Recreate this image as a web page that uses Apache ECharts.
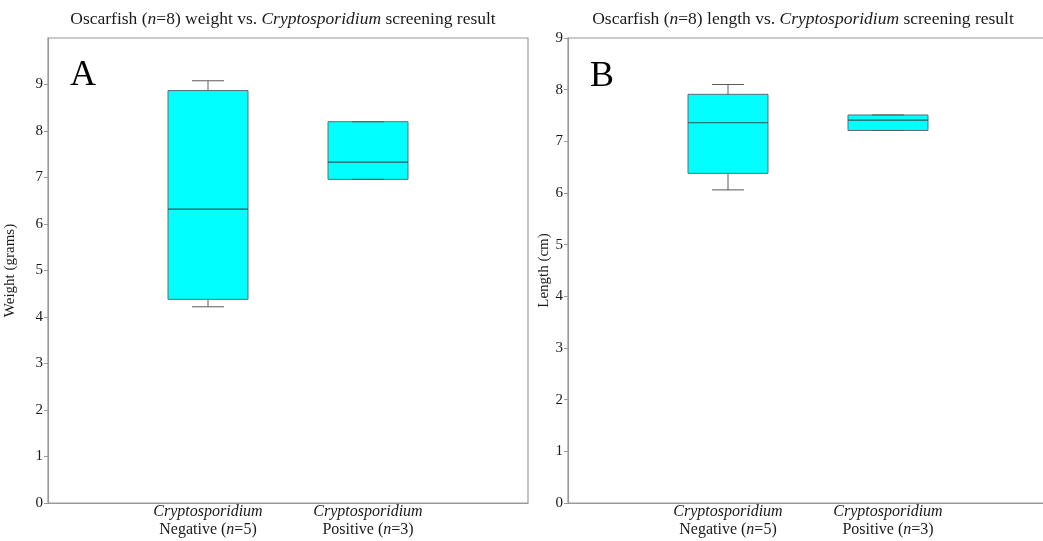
<!DOCTYPE html>
<html>
<head>
<meta charset="utf-8">
<script src="https://cdn.jsdelivr.net/npm/echarts@6/dist/echarts.min.js"></script>
<style>
  html, body { margin: 0; padding: 0; background: #fff; }
  #chart { width: 1043px; height: 541px; }
</style>
</head>
<body>
<div id="chart"></div>
<script>
// ---- data (five-number summaries: min, Q1, median, Q3, max) ----
const groupWords = ['Negative', 'Positive'];
const groupN = [5, 3];
const weightNegative = [4.22, 4.38, 6.32, 8.87, 9.08];
const weightPositive = [6.96, 6.96, 7.33, 8.20, 8.20];
const lengthNegative = [6.06, 6.38, 7.36, 7.91, 8.10];
const lengthPositive = [7.21, 7.21, 7.41, 7.51, 7.51];
const weightAxisMax = 10;
const lengthAxisMax = 9;
const axisInterval = 1;

const FONT = "'Liberation Serif', 'Times New Roman', serif";
const TEXT = '#1a1a1a';
const FRAME = '#9a9a9a';

// category slots: blank, group 1, group 2, blank (boundaryGap false -> thirds)
const cats = ['', groupWords[0], groupWords[1], ''];

function catLabel(value, idx) {
  const g = groupWords.indexOf(value);
  if (g < 0) return '';
  return '{i|Cryptosporidium}\n{r|' + groupWords[g] + ' (}{i|n}{r|=' + groupN[g] + ')}';
}

function boxRender(params, api) {
  const x = api.value(0);
  const vMin = api.value(1), q1 = api.value(2), med = api.value(3), q3 = api.value(4), vMax = api.value(5);
  const unit = api.size([1, 0])[0];
  const halfBox = unit * 0.25;
  const halfCap = unit * 0.1;
  const pMin = api.coord([x, vMin]);
  const pQ1 = api.coord([x, q1]);
  const pMed = api.coord([x, med]);
  const pQ3 = api.coord([x, q3]);
  const pMax = api.coord([x, vMax]);
  const cx = pMed[0];
  const lineStyle = { stroke: '#5a5a5a', lineWidth: 1 };
  return {
    type: 'group',
    children: [
      { type: 'line', shape: { x1: cx, y1: pQ3[1], x2: cx, y2: pMax[1] }, style: lineStyle },
      { type: 'line', shape: { x1: cx, y1: pQ1[1], x2: cx, y2: pMin[1] }, style: lineStyle },
      { type: 'rect', shape: { x: cx - halfBox, y: pQ3[1], width: halfBox * 2, height: pQ1[1] - pQ3[1] },
        style: { fill: '#00FFFF', stroke: '#5c6f6f', lineWidth: 1 } },
      { type: 'line', shape: { x1: cx - halfBox, y1: pMed[1], x2: cx + halfBox, y2: pMed[1] },
        style: { stroke: '#2f5656', lineWidth: 1.2 } },
      { type: 'line', shape: { x1: cx - halfCap, y1: pMax[1], x2: cx + halfCap, y2: pMax[1] }, style: lineStyle },
      { type: 'line', shape: { x1: cx - halfCap, y1: pMin[1], x2: cx + halfCap, y2: pMin[1] }, style: lineStyle }
    ]
  };
}

function xAxisCfg(gi) {
  return {
    type: 'category', gridIndex: gi, data: cats, boundaryGap: false,
    axisLine: { lineStyle: { color: FRAME, width: 1.2 } },
    axisTick: { show: false },
    splitLine: { show: false },
    axisLabel: {
      interval: 0, formatter: catLabel, margin: 0, color: TEXT,
      fontFamily: FONT, fontSize: 16, lineHeight: 18,
      rich: {
        i: { fontStyle: 'italic', fontFamily: FONT, fontSize: 16, color: TEXT, lineHeight: 18 },
        r: { fontFamily: FONT, fontSize: 16, color: TEXT, lineHeight: 18 }
      }
    }
  };
}

function yAxisCfg(gi, max, name, gap, showMax) {
  return {
    type: 'value', gridIndex: gi, min: 0, max: max, interval: axisInterval,
    name: name, nameLocation: 'middle', nameGap: gap,
    nameTextStyle: { fontFamily: FONT, fontSize: 15, color: TEXT },
    axisLine: { show: true, lineStyle: { color: FRAME, width: 1.2 } },
    axisTick: { show: true, length: 4, lineStyle: { color: FRAME } },
    splitLine: { show: false },
    axisLabel: { showMaxLabel: showMax, margin: 5, fontFamily: FONT, fontSize: 15, color: TEXT }
  };
}

function titleText(word) {
  return {
    type: 'text', z: 10,
    style: {
      text: '{r|Oscarfish (}{i|n}{r|=8) ' + word + ' vs. }{i|Cryptosporidium}{r| screening result}',
      textAlign: 'center', textVerticalAlign: 'middle',
      rich: {
        r: { fontFamily: FONT, fontSize: 17.5, fill: TEXT },
        i: { fontFamily: FONT, fontSize: 17.5, fontStyle: 'italic', fill: TEXT }
      }
    }
  };
}

const tA = titleText('weight'); tA.x = 283; tA.y = 19;
const tB = titleText('length'); tB.x = 803; tB.y = 19;
const letterA = { type: 'text', x: 70, y: 76, style: { text: 'A', fontFamily: FONT, fontSize: 36, fill: '#000', textVerticalAlign: 'middle' } };
const letterB = { type: 'text', x: 590, y: 77, style: { text: 'B', fontFamily: FONT, fontSize: 36, fill: '#000', textVerticalAlign: 'middle' } };

const option = {
  animation: false,
  backgroundColor: '#fff',
  grid: [
    { left: 48, top: 38, width: 480, bottom: 38, show: true, borderColor: FRAME, borderWidth: 1.2,
      outerBoundsMode: 'none', containLabel: false },
    { left: 568, top: 38, right: -5, bottom: 38, show: true, borderColor: FRAME, borderWidth: 1.2,
      outerBoundsMode: 'none', containLabel: false }
  ],
  xAxis: [xAxisCfg(0), xAxisCfg(1)],
  yAxis: [
    yAxisCfg(0, weightAxisMax, 'Weight (grams)', 30, false),
    yAxisCfg(1, lengthAxisMax, 'Length (cm)', 16, true)
  ],
  graphic: [tA, tB, letterA, letterB],
  series: [
    { type: 'custom', xAxisIndex: 0, yAxisIndex: 0, renderItem: boxRender,
      encode: { x: 0, y: [1, 2, 3, 4, 5] },
      data: [[1].concat(weightNegative), [2].concat(weightPositive)] },
    { type: 'custom', xAxisIndex: 1, yAxisIndex: 1, renderItem: boxRender,
      encode: { x: 0, y: [1, 2, 3, 4, 5] },
      data: [[1].concat(lengthNegative), [2].concat(lengthPositive)] }
  ]
};

const chart = echarts.init(document.getElementById('chart'), null, { renderer: 'canvas' });
chart.setOption(option);
</script>
</body>
</html>
